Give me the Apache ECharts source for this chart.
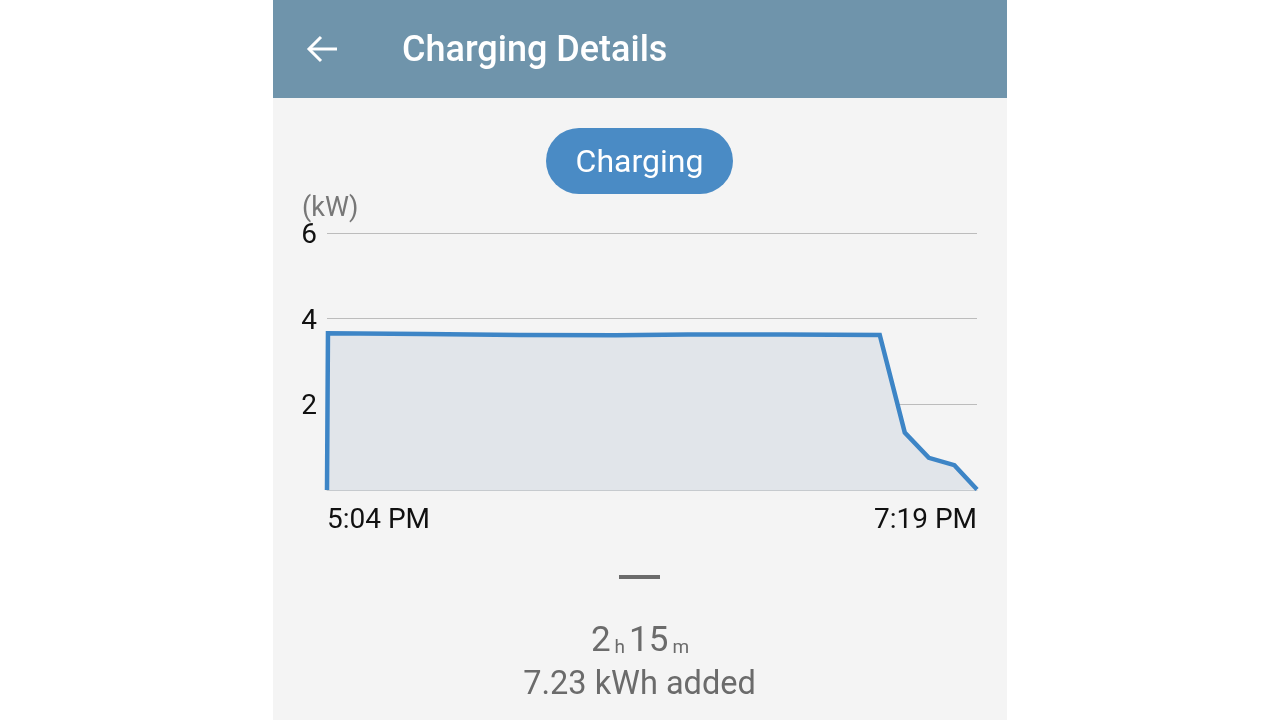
<!DOCTYPE html>
<html>
<head>
<meta charset="utf-8">
<script src="https://cdn.jsdelivr.net/npm/echarts@6/dist/echarts.min.js"></script>
<style>
html,body{margin:0;padding:0;background:#ffffff;}
#chart{width:1280px;height:720px;}
</style>
</head>
<body>
<div id="chart"></div>
<script>
// Data
const minutes = [0, 0.2, 20, 40, 60, 75, 95, 114.8, 120, 125, 130.3, 135];
const powerKW = [0, 3.66, 3.64, 3.62, 3.61, 3.63, 3.63, 3.62, 1.34, 0.75, 0.58, 0.01];
const xTickLabels = ['5:04 PM', '7:19 PM'];
const yTicks = [0, 2, 4, 6];
const yUnit = '(kW)';
const titleText = 'Charging Details';
const buttonText = 'Charging';
const durationH = '2';
const durationM = '15';
const energyText = '7.23 kWh added';

const seriesData = minutes.map((m, i) => [m, powerKW[i]]);
const maxMin = minutes[minutes.length - 1];

const chart = echarts.init(document.getElementById('chart'));
const font = 'Roboto, "Noto Sans", sans-serif';

chart.setOption({
  backgroundColor: '#ffffff',
  animation: false,
  textStyle: { fontFamily: font },
  grid: { left: 327, right: 303, top: 233, bottom: 230, containLabel: false },
  xAxis: {
    type: 'value',
    min: 0,
    max: maxMin,
    interval: maxMin,
    axisLine: { show: true, lineStyle: { color: '#c6cace', width: 1 } },
    axisTick: { show: false },
    splitLine: { show: false },
    axisLabel: {
      color: '#111111',
      fontSize: 28,
      margin: 17,
      fontFamily: font,
      alignMinLabel: 'left',
      alignMaxLabel: 'right',
      formatter: v => (v === 0 ? xTickLabels[0] : (v === maxMin ? xTickLabels[1] : ''))
    }
  },
  yAxis: {
    type: 'value',
    min: yTicks[0],
    max: yTicks[yTicks.length - 1],
    interval: yTicks[1] - yTicks[0],
    axisLine: { show: false },
    axisTick: { show: false },
    splitLine: { show: true, lineStyle: { color: '#bcbcbc', width: 1 } },
    axisLabel: {
      color: '#111111',
      fontSize: 28,
      margin: 10,
      fontFamily: font,
      formatter: v => (v === 0 ? '' : '{t|' + v + '}'),
      rich: { t: { fontSize: 28, color: '#111111', fontFamily: font, padding: [6, 0, 0, 0] } }
    }
  },
  series: [{
    type: 'line',
    data: seriesData,
    symbol: 'none',
    lineStyle: { color: '#3d85c6', width: 4.5, join: 'miter' },
    areaStyle: { color: '#e1e5ea', opacity: 1 },
    z: 3
  }],
  graphic: [
    { type: 'rect', z: -100, silent: true, shape: { x: 273, y: 98, width: 734, height: 622 }, style: { fill: '#f4f4f4' } },
    { type: 'rect', z: 10, shape: { x: 273, y: 0, width: 734, height: 98 }, style: { fill: '#6f94ab' } },
    { type: 'polyline', z: 11, shape: { points: [[309, 49], [337, 49]] }, style: { stroke: '#ffffff', lineWidth: 3, fill: null } },
    { type: 'polyline', z: 11, shape: { points: [[321, 37], [309, 49], [321, 61]] }, style: { stroke: '#ffffff', lineWidth: 3, fill: null } },
    { type: 'text', z: 11, style: { x: 402, y: 52, text: titleText, fill: '#ffffff', font: '500 36px ' + font, textAlign: 'left', textVerticalAlign: 'middle' } },
    { type: 'rect', z: 10, shape: { x: 546, y: 128, width: 187, height: 66, r: 33 }, style: { fill: '#4a8bc5' } },
    { type: 'text', z: 11, style: { x: 639.5, y: 164, text: buttonText, fill: '#ffffff', font: '32px ' + font, textAlign: 'center', textVerticalAlign: 'middle' } },
    { type: 'text', z: 11, style: { x: 302, y: 209, text: yUnit, fill: '#777777', font: '27px ' + font, textAlign: 'left', textVerticalAlign: 'middle' } },
    { type: 'rect', z: 10, shape: { x: 619, y: 575, width: 41, height: 4 }, style: { fill: '#6b6b6b' } },
    { type: 'text', z: 11, style: {
      x: 640, y: 642, textAlign: 'center', textVerticalAlign: 'middle',
      text: '{big|' + durationH + '}{small|h}{big|' + durationM + '}{small|m}',
      rich: {
        big: { fontSize: 35, fill: '#6b6b6b', fontFamily: font, padding: [0, 2, 0, 2] },
        small: { fontSize: 19, fill: '#6b6b6b', fontFamily: font, verticalAlign: 'bottom', padding: [0, 2, 2, 2] }
      }
    } },
    { type: 'text', z: 11, style: { x: 639.5, y: 686, text: energyText, fill: '#6b6b6b', font: '32.5px ' + font, textAlign: 'center', textVerticalAlign: 'middle' } }
  ]
});
</script>
</body>
</html>
